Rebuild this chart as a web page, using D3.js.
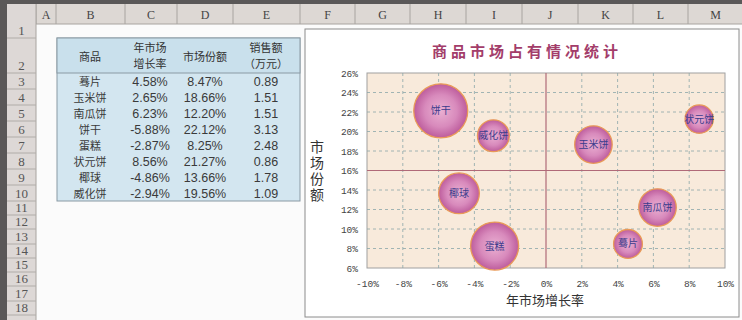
<!DOCTYPE html>
<html><head><meta charset="utf-8">
<script src="https://cdn.jsdelivr.net/npm/d3@7"></script>
<style>body{margin:0;background:#fff}svg{display:block}</style>
</head><body><svg id="c" width="742" height="320"></svg>
<script>
const products = ["蓦片","玉米饼","南瓜饼","饼干","蛋糕","状元饼","椰球","威化饼"];
const growth = [4.58, 2.65, 6.23, -5.88, -2.87, 8.56, -4.86, -2.94];
const share = [8.47, 18.66, 12.20, 22.12, 8.25, 21.27, 13.66, 19.56];
const sales = [0.89, 1.51, 1.51, 3.13, 2.48, 0.86, 1.78, 1.09];
const headers = [["商品"],["年市场","增长率"],["市场份额"],["销售额","（万元）"]];
const colLetters = ["A","B","C","D","E","F","G","H","I","J","K","L","M"];
const xTicks = [-10,-8,-6,-4,-2,0,2,4,6,8,10];
const yTicks = [6,8,10,12,14,16,18,20,22,24,26];
const title = "商品市场占有情况统计";
const xTitle = "年市场增长率";
const yTitle = "市场份额";

const svg = d3.select("#c");
const cjk = "'Noto Sans CJK SC','Noto Sans',sans-serif";

// sheet background
svg.append("rect").attr("width",742).attr("height",320).attr("fill","#fbfbfb");

// column header band
const colEdges = [36,56,125,177,233,300,355,410,466,522,578,633,688,743];
svg.append("rect").attr("x",0).attr("y",0).attr("width",742).attr("height",24).attr("fill","#ddd8d4");
svg.append("rect").attr("x",0).attr("y",0).attr("width",742).attr("height",4).attr("fill","#5a5858");
colLetters.forEach((l,i)=>{
  svg.append("line").attr("x1",colEdges[i]).attr("x2",colEdges[i]).attr("y1",4).attr("y2",24).attr("stroke","#a8a4a0");
  svg.append("text").attr("x",(colEdges[i]+colEdges[i+1])/2).attr("y",19)
    .attr("text-anchor","middle").attr("font-family","'Liberation Serif',serif").attr("font-size",12).attr("fill","#444").text(l);
});
svg.append("line").attr("x1",0).attr("x2",742).attr("y1",24).attr("y2",24).attr("stroke","#a8a4a0");

// row header band
const rowEdges = [24,38,73,89,105,121,137,153,169,185,201,215,229,244,258,272,286,301,315];
svg.append("rect").attr("x",0).attr("y",4).attr("width",36).attr("height",316).attr("fill","#ddd8d6");
svg.append("rect").attr("x",0).attr("y",0).attr("width",7).attr("height",320).attr("fill","#5a5858");
svg.append("line").attr("x1",36).attr("x2",36).attr("y1",4).attr("y2",320).attr("stroke","#a8a4a0");
for(let i=0;i<rowEdges.length-1;i++){
  svg.append("line").attr("x1",7).attr("x2",36).attr("y1",rowEdges[i+1]).attr("y2",rowEdges[i+1]).attr("stroke","#b0aca8");
  svg.append("text").attr("x",21.5).attr("y",rowEdges[i+1]-3).attr("text-anchor","middle")
    .attr("font-family","'Liberation Serif',serif").attr("font-size",13).attr("fill","#555").text(i+1);
}

// table
const colCenters = [90,150,205,266];
svg.append("rect").attr("x",57).attr("y",38).attr("width",243).attr("height",163).attr("fill","#d3e6f0").attr("stroke","#8a9aa4");
svg.append("rect").attr("x",57).attr("y",38).attr("width",243).attr("height",35).attr("fill","#c9e0ec").attr("stroke","#8a9aa4");
headers.forEach((h,i)=>{
  h.forEach((line,j)=>{
    svg.append("text").attr("x",colCenters[i]).attr("y",h.length===1?61:52+j*16)
      .attr("text-anchor","middle").attr("font-family",cjk).attr("font-size",11).attr("fill","#333").text(line);
  });
});
const fmtP = d=>d.toFixed(2)+"%";
products.forEach((p,i)=>{
  const y = 73+16*i+13;
  const cells = [p, fmtP(growth[i]), fmtP(share[i]), sales[i].toFixed(2)];
  cells.forEach((c,j)=>{
    svg.append("text").attr("x",colCenters[j]).attr("y",j===0?y-0.5:y).attr("text-anchor","middle")
      .attr("font-family",j===0?cjk:"'Liberation Sans',Arial,sans-serif").attr("font-size",j===0?11:12.5).attr("fill","#3a3a3a").text(c);
  });
});

// chart frame
svg.append("rect").attr("x",305).attr("y",29).attr("width",434).attr("height",288).attr("fill","#fff").attr("stroke","#8c8c8c");

svg.append("text").attr("x",527).attr("y",57).attr("text-anchor","middle").attr("font-family",cjk)
  .attr("font-size",15).attr("font-weight","bold").attr("letter-spacing",4).attr("fill","#a33d6a").text(title);

const x = d3.scaleLinear().domain([-10,10]).range([367,725]);
const y = d3.scaleLinear().domain([6,26]).range([268,73]);
const r = d3.scaleSqrt().domain([0,d3.max(sales)]).range([0,27]);

const defs = svg.append("defs");
const g1 = defs.append("radialGradient").attr("id","bub").attr("cx","50%").attr("cy","50%").attr("r","50%");
g1.append("stop").attr("offset","0%").attr("stop-color","#eab0d2");
g1.append("stop").attr("offset","60%").attr("stop-color","#d88abc");
g1.append("stop").attr("offset","100%").attr("stop-color","#bd5c9c");

svg.append("rect").attr("x",367).attr("y",73).attr("width",358).attr("height",195).attr("fill","#f8eadb").attr("stroke","#a0a0a0");

// gridlines
svg.append("g").selectAll("line").data(xTicks.slice(1,-1).filter(d=>d!==0)).join("line")
  .attr("x1",d=>x(d)).attr("x2",d=>x(d)).attr("y1",73).attr("y2",268)
  .attr("stroke","#8aa6a8").attr("stroke-dasharray","3,3").attr("stroke-width",0.8);
svg.append("g").selectAll("line").data(yTicks.slice(1,-1).filter(d=>d!==16)).join("line")
  .attr("x1",367).attr("x2",725).attr("y1",d=>y(d)).attr("y2",d=>y(d))
  .attr("stroke","#8aa6a8").attr("stroke-dasharray","3,3").attr("stroke-width",0.8);

// reference lines
svg.append("line").attr("x1",x(0)).attr("x2",x(0)).attr("y1",73).attr("y2",268).attr("stroke","#b06a78").attr("stroke-width",1.2);
svg.append("line").attr("x1",367).attr("x2",725).attr("y1",y(16)).attr("y2",y(16)).attr("stroke","#b06a78").attr("stroke-width",1.2);

// axes
const xAxis = d3.axisBottom(x).tickValues(xTicks).tickSize(0).tickPadding(12).tickFormat(d=>d+"%");
const gx = svg.append("g").attr("transform","translate(0,268)").call(xAxis);
const yAxis = d3.axisLeft(y).tickValues(yTicks).tickSize(0).tickPadding(9).tickFormat(d=>d+"%");
const gy = svg.append("g").attr("transform","translate(367,0)").call(yAxis);
[gx,gy].forEach(g=>{
  g.select(".domain").remove();
  g.selectAll("text").attr("font-family","'Liberation Mono',monospace").attr("font-size",9.5).attr("fill","#444");
});

// bubbles
const idx = d3.range(products.length).sort((a,b)=>sales[b]-sales[a]);
const bg = svg.append("g").selectAll("g").data(idx).join("g");
bg.append("circle").attr("cx",i=>x(growth[i])).attr("cy",i=>y(share[i])).attr("r",i=>r(sales[i]))
  .attr("fill","url(#bub)").attr("stroke","#e99a58").attr("stroke-width",1.3);
bg.append("text").attr("x",i=>x(growth[i])).attr("y",i=>y(share[i])+3.5).attr("text-anchor","middle")
  .attr("font-family",cjk).attr("font-size",10).attr("fill","#3c3c8c").text(i=>products[i]);

// axis titles
svg.append("text").attr("x",545).attr("y",305).attr("text-anchor","middle").attr("font-family",cjk)
  .attr("font-size",13).attr("fill","#333").text(xTitle);
svg.append("text").attr("x",317).attr("y",172).attr("text-anchor","middle").attr("font-family",cjk)
  .attr("font-size",14).attr("fill","#333").attr("letter-spacing",2)
  .style("writing-mode","vertical-rl").text(yTitle);
</script></body></html>
